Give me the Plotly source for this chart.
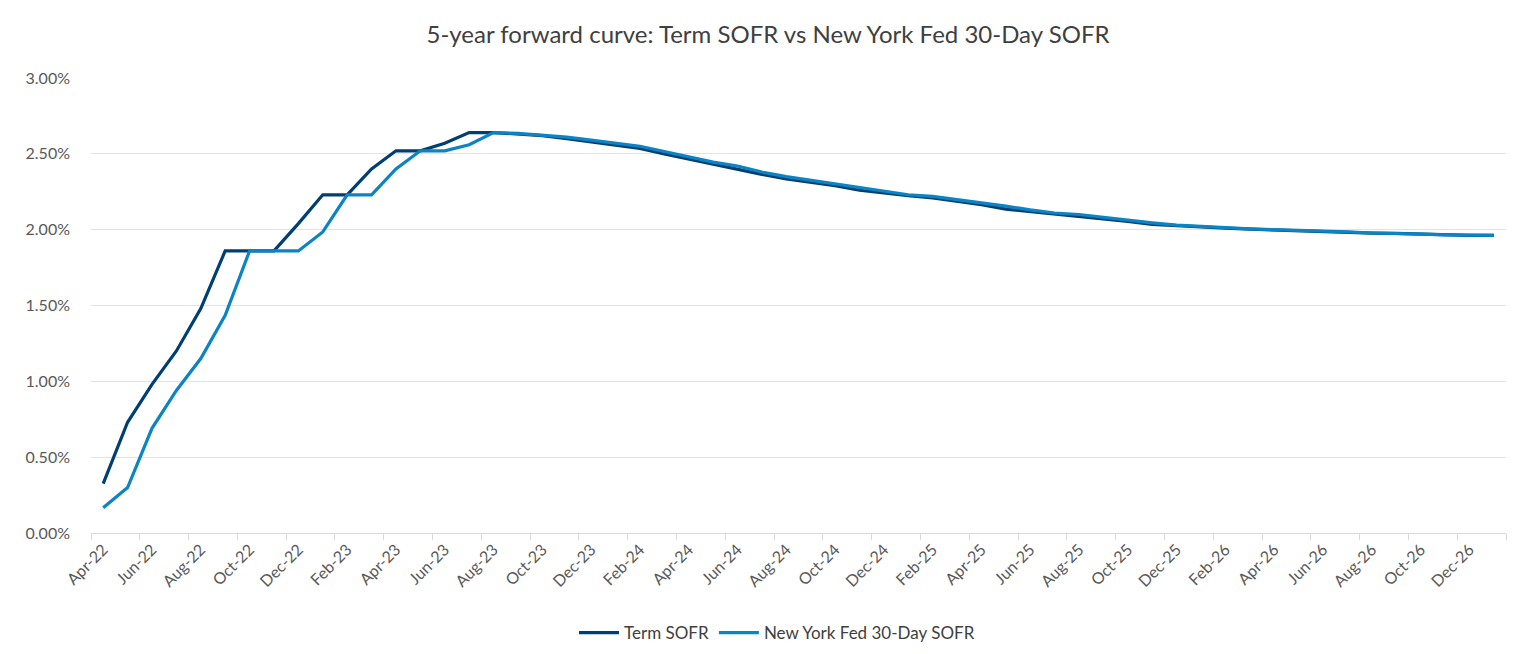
import plotly.graph_objects as go

months = []
_mn = ["Jan", "Feb", "Mar", "Apr", "May", "Jun", "Jul", "Aug", "Sep", "Oct", "Nov", "Dec"]
for _y in range(22, 28):
    for _m in _mn:
        months.append(f"{_m}-{_y}")
months = months[months.index("Apr-22"):months.index("Jan-27") + 1]

term_sofr = [
    0.325, 0.73, 0.98, 1.20, 1.48, 1.86, 1.86, 1.86, 2.04, 2.23,
    2.23, 2.40, 2.52, 2.52, 2.57, 2.64, 2.64, 2.63, 2.62, 2.60,
    2.58, 2.56, 2.535, 2.50, 2.465, 2.43, 2.40, 2.365, 2.335, 2.315,
    2.29, 2.26, 2.24, 2.225, 2.21, 2.19, 2.165, 2.135, 2.12, 2.105,
    2.085, 2.07, 2.055, 2.035, 2.025, 2.015, 2.01, 2.003, 1.997, 1.993,
    1.988, 1.982, 1.977, 1.975, 1.969, 1.964, 1.962, 1.962,
]

nyfed_30d_sofr = [
    0.167, 0.30, 0.69, 0.94, 1.15, 1.435, 1.86, 1.86, 1.86, 1.985,
    2.23, 2.23, 2.40, 2.52, 2.52, 2.56, 2.64, 2.635, 2.625, 2.61,
    2.59, 2.57, 2.55, 2.515, 2.48, 2.445, 2.42, 2.38, 2.35, 2.325,
    2.30, 2.275, 2.25, 2.23, 2.22, 2.20, 2.18, 2.155, 2.13, 2.11,
    2.10, 2.08, 2.065, 2.045, 2.03, 2.02, 2.012, 2.005, 2.0, 1.996,
    1.99, 1.985, 1.978, 1.976, 1.971, 1.966, 1.963, 1.963,
]

y_ticks = [0.0, 0.5, 1.0, 1.5, 2.0, 2.5, 3.0]

FONT = "Lato, 'Open Sans', sans-serif"
GREY = "#595959"

fig = go.Figure()
fig.add_trace(go.Scatter(
    x=months, y=term_sofr, mode="lines", name="Term SOFR",
    line=dict(color="#003F72", width=3.2),
))
fig.add_trace(go.Scatter(
    x=months, y=nyfed_30d_sofr, mode="lines", name="New York Fed 30-Day SOFR",
    line=dict(color="#0A84C4", width=3.2),
))

fig.update_layout(
    width=1536, height=654,
    margin=dict(l=91, r=30, t=78, b=121, autoexpand=False),
    paper_bgcolor="white", plot_bgcolor="white",
    font=dict(family=FONT, color=GREY, size=16),
    title=dict(
        text="5-year forward curve: Term SOFR vs New York Fed 30-Day SOFR",
        x=0.5, xanchor="center", y=1 - 35 / 654, yanchor="middle",
        font=dict(family=FONT, size=24, color="#404040"),
    ),
    showlegend=True,
    legend=dict(
        orientation="h", xref="container", x=777 / 1536, xanchor="center",
        yref="container", y=1 - 633 / 654, yanchor="middle",
        font=dict(family=FONT, size=17, color="#404040"),
        itemwidth=40, tracegroupgap=0,
    ),
    hovermode=False,
)

fig.update_xaxes(
    type="category",
    categoryorder="array", categoryarray=months,
    range=[-0.5, len(months) - 0.5],
    tickmode="linear", tick0=0, dtick=2,
    tickson="boundaries",
    ticks="outside", ticklen=6, tickcolor="#D9D9D9", tickwidth=1,
    tickangle=-45,
    tickfont=dict(family=FONT, size=16, color=GREY),
    showgrid=False,
    showline=True, linecolor="#D9D9D9", linewidth=1,
    zeroline=False, automargin=False,
)

fig.update_yaxes(
    range=[0, 3.0],
    tickmode="array", tickvals=y_ticks,
    ticktext=[f"{v:.2f}%" for v in y_ticks],
    tickfont=dict(family=FONT, size=16, color=GREY),
    showgrid=True, gridcolor="#E3E3E3", gridwidth=1,
    zeroline=False, showline=False, automargin=False,
    ticks="", ticklabelstandoff=20,
)

fig.write_html("out.html")
